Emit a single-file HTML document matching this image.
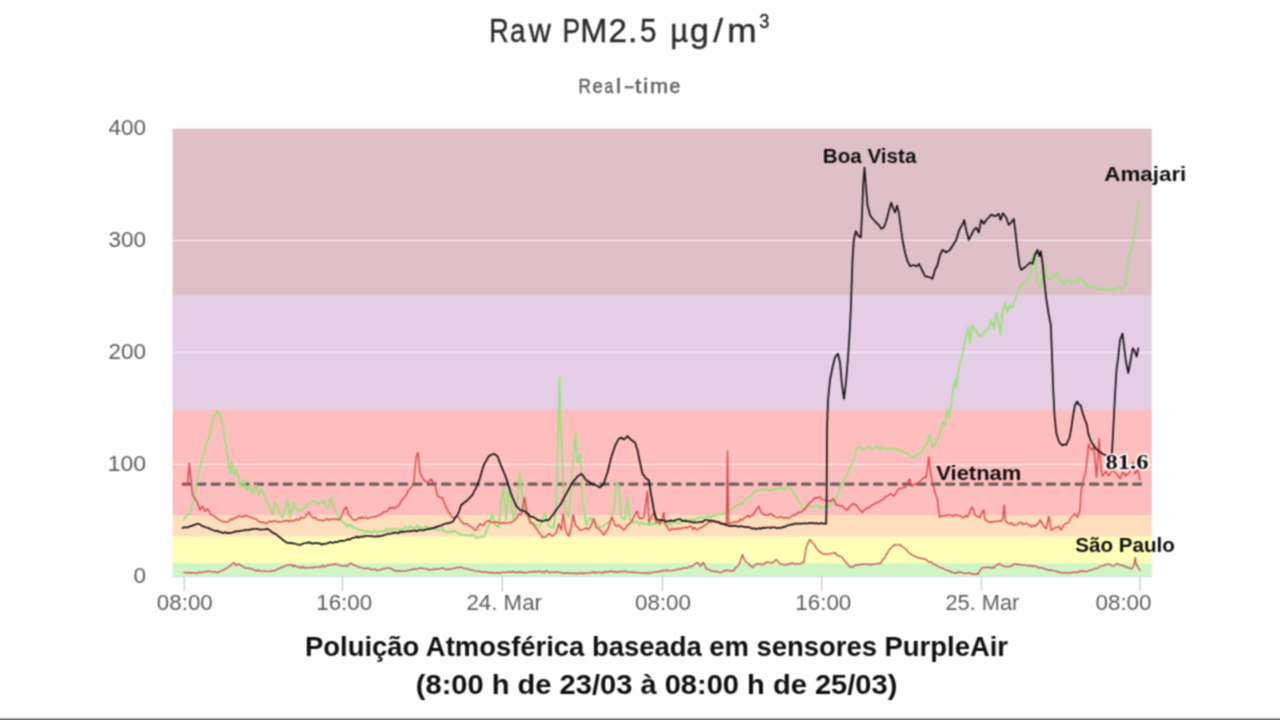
<!DOCTYPE html>
<html lang="pt-BR">
<head>
<meta charset="utf-8">
<title>Raw PM2.5 µg/m³ — Real-time</title>
<style>
html,body{margin:0;padding:0;background:#fff;}
body{width:1280px;height:720px;overflow:hidden;font-family:"Liberation Sans","DejaVu Sans",sans-serif;}
svg{display:block;}
</style>
</head>
<body>
<svg width="1280" height="720" viewBox="0 0 1280 720">
<defs><filter id="soft" x="0" y="0" width="1280" height="720" filterUnits="userSpaceOnUse" color-interpolation-filters="sRGB"><feConvolveMatrix order="3" kernelMatrix="1 2 1 2 4 2 1 2 1" divisor="16" edgeMode="duplicate" preserveAlpha="true"/></filter></defs>
<g filter="url(#soft)">
<rect width="1280" height="720" fill="#fff"/>
<rect x="172.6" y="128" width="979.1" height="167.4" fill="#7e0023" fill-opacity="0.25"/>
<rect x="172.6" y="295.4" width="979.1" height="114.0" fill="#78087d" fill-opacity="0.2"/>
<rect x="172.6" y="409.4" width="979.1" height="105.8" fill="#ff0000" fill-opacity="0.255"/>
<rect x="172.6" y="515.2" width="979.1" height="21.2" fill="#ff7e00" fill-opacity="0.26"/>
<rect x="172.6" y="536.4" width="979.1" height="26.8" fill="#ffff00" fill-opacity="0.28"/>
<rect x="172.6" y="563.2" width="979.1" height="13.3" fill="#68e143" fill-opacity="0.3"/>
<line x1="172.6" x2="1151.7" y1="128.5" y2="128.5" stroke="#fff" stroke-opacity="0.7" stroke-width="1"/>
<line x1="172.6" x2="1151.7" y1="240.5" y2="240.5" stroke="#fff" stroke-opacity="0.7" stroke-width="1"/>
<line x1="172.6" x2="1151.7" y1="352.5" y2="352.5" stroke="#fff" stroke-opacity="0.7" stroke-width="1"/>
<line x1="172.6" x2="1151.7" y1="464.5" y2="464.5" stroke="#fff" stroke-opacity="0.7" stroke-width="1"/>
<line x1="172.6" x2="1151.7" y1="576.7" y2="576.7" stroke="#cdd3dc" stroke-width="1"/>
<line x1="184.3" x2="184.3" y1="576" y2="591" stroke="#c9cacf" stroke-width="1.3"/>
<line x1="342.5" x2="342.5" y1="576" y2="591" stroke="#c9cacf" stroke-width="1.3"/>
<line x1="502.4" x2="502.4" y1="576" y2="591" stroke="#c9cacf" stroke-width="1.3"/>
<line x1="662.5" x2="662.5" y1="576" y2="591" stroke="#c9cacf" stroke-width="1.3"/>
<line x1="821.6" x2="821.6" y1="576" y2="591" stroke="#c9cacf" stroke-width="1.3"/>
<line x1="981.4" x2="981.4" y1="576" y2="591" stroke="#c9cacf" stroke-width="1.3"/>
<line x1="1140.1" x2="1140.1" y1="576" y2="591" stroke="#c9cacf" stroke-width="1.3"/>
<g font-family="'Liberation Sans', 'DejaVu Sans', sans-serif" font-size="21.5" fill="#5e5e5e">
<text x="146" y="135.4" text-anchor="end" textLength="37.5" lengthAdjust="spacingAndGlyphs">400</text>
<text x="146" y="247.4" text-anchor="end" textLength="37.5" lengthAdjust="spacingAndGlyphs">300</text>
<text x="146" y="359.4" text-anchor="end" textLength="37.5" lengthAdjust="spacingAndGlyphs">200</text>
<text x="146" y="471.4" text-anchor="end" textLength="38.3" lengthAdjust="spacingAndGlyphs">100</text>
<text x="146" y="583.4" text-anchor="end" textLength="12.5" lengthAdjust="spacingAndGlyphs">0</text>
<text x="184.8" y="610" text-anchor="middle" textLength="56" lengthAdjust="spacingAndGlyphs">08:00</text>
<text x="344.2" y="610" text-anchor="middle" textLength="56" lengthAdjust="spacingAndGlyphs">16:00</text>
<text x="504.2" y="610" text-anchor="middle" textLength="75.5" lengthAdjust="spacingAndGlyphs">24. Mar</text>
<text x="663.0" y="610" text-anchor="middle" textLength="56" lengthAdjust="spacingAndGlyphs">08:00</text>
<text x="823.3" y="610" text-anchor="middle" textLength="56" lengthAdjust="spacingAndGlyphs">16:00</text>
<text x="982.4" y="610" text-anchor="middle" textLength="74" lengthAdjust="spacingAndGlyphs">25. Mar</text>
<text x="1123.5" y="610" text-anchor="middle" textLength="56" lengthAdjust="spacingAndGlyphs">08:00</text>
</g>
<line x1="182" x2="1142" y1="484.1" y2="484.1" stroke="#4e4a4c" stroke-opacity="0.82" stroke-width="3.1" stroke-dasharray="9.9 4.5"/>
<path d="M183.8 572.5 L185.4 572.6 L187.0 573.2 L188.6 572.3 L190.2 573.2 L191.8 572.7 L193.4 572.8 L195.0 573.0 L196.6 573.6 L198.1 572.6 L199.7 572.3 L201.2 572.5 L202.8 572.4 L204.4 571.7 L205.9 571.7 L207.5 571.2 L209.2 571.1 L210.8 571.7 L212.5 571.9 L214.2 571.8 L215.8 572.0 L217.5 573.0 L219.1 571.5 L220.6 571.4 L222.2 570.7 L223.8 570.0 L225.3 568.9 L226.9 568.2 L228.4 566.6 L230.0 566.2 L231.9 564.3 L233.8 562.5 L236.2 565.5 L238.8 563.8 L240.3 564.9 L241.9 566.2 L243.4 566.6 L245.0 568.0 L246.7 568.2 L248.3 567.9 L250.0 569.0 L251.7 568.7 L253.3 569.4 L255.0 570.5 L256.7 571.1 L258.3 569.8 L260.0 571.2 L261.7 571.1 L263.3 571.0 L265.0 571.2 L266.7 571.4 L268.3 571.3 L270.0 571.5 L271.7 570.8 L273.3 570.6 L275.0 570.8 L276.5 569.7 L278.0 568.8 L279.5 568.5 L281.0 567.4 L282.5 567.0 L284.0 567.1 L285.5 565.4 L287.0 565.3 L288.5 565.0 L290.0 565.0 L291.5 564.5 L293.0 566.7 L294.5 565.1 L296.0 566.5 L297.5 567.0 L299.2 566.9 L300.8 568.1 L302.5 566.6 L304.2 568.1 L305.8 567.5 L307.5 568.0 L309.2 567.8 L310.8 567.4 L312.5 567.8 L314.2 566.8 L315.8 567.1 L317.5 567.0 L319.2 566.9 L320.8 567.3 L322.5 565.2 L324.2 566.7 L325.8 566.2 L327.5 565.5 L329.0 564.9 L330.5 564.9 L332.0 564.2 L333.5 564.8 L335.0 563.8 L336.5 564.3 L338.0 564.7 L339.5 565.1 L341.0 565.7 L342.5 566.2 L344.2 565.9 L345.8 565.3 L347.5 566.3 L349.2 564.2 L350.8 563.2 L352.5 564.5 L354.0 565.0 L355.5 565.6 L357.0 566.5 L358.5 566.8 L360.0 567.5 L361.7 567.6 L363.3 568.1 L365.0 568.6 L366.7 568.1 L368.3 568.4 L370.0 568.8 L371.7 569.8 L373.3 569.4 L375.0 568.9 L376.7 570.6 L378.3 570.1 L380.0 570.0 L381.5 569.3 L383.0 568.7 L384.5 568.9 L386.0 568.0 L387.5 568.0 L389.2 568.1 L390.8 568.5 L392.5 569.4 L394.2 570.7 L395.8 570.5 L397.5 571.2 L399.2 570.5 L400.8 571.3 L402.5 570.9 L404.2 571.1 L405.8 571.2 L407.5 570.5 L409.1 570.1 L410.6 569.8 L412.2 569.5 L413.8 568.7 L415.3 569.2 L416.9 569.2 L418.4 568.4 L420.0 568.0 L421.7 568.2 L423.3 568.5 L425.0 568.6 L426.7 569.0 L428.3 569.5 L430.0 570.0 L431.7 569.4 L433.3 569.4 L435.0 568.7 L436.7 569.3 L438.3 569.0 L440.0 568.8 L441.7 568.4 L443.3 568.0 L445.0 569.1 L446.7 569.7 L448.3 569.0 L450.0 569.5 L451.7 568.9 L453.3 568.4 L455.0 568.5 L456.7 567.4 L458.3 567.9 L460.0 567.0 L461.7 567.4 L463.3 568.4 L465.0 568.5 L466.7 568.9 L468.3 568.8 L470.0 570.0 L471.7 569.9 L473.3 570.4 L475.0 571.0 L476.7 571.1 L478.3 570.9 L480.0 571.5 L481.5 571.8 L483.0 572.2 L484.5 571.9 L486.0 571.9 L487.5 572.1 L489.0 572.8 L490.5 572.8 L492.0 572.3 L493.5 573.0 L495.0 573.0 L496.5 572.7 L498.0 572.5 L499.5 573.3 L501.0 573.0 L502.5 572.2 L504.0 572.4 L505.5 572.5 L507.0 571.9 L508.5 572.0 L510.0 572.0 L511.5 572.4 L513.0 571.3 L514.5 572.3 L516.0 572.5 L517.5 572.5 L519.0 571.7 L520.5 572.5 L522.0 572.0 L523.5 572.7 L525.0 572.5 L526.5 572.6 L528.0 572.3 L529.5 571.8 L531.0 571.7 L532.5 572.3 L534.0 571.3 L535.5 571.8 L537.0 571.7 L538.5 571.2 L540.0 571.2 L541.5 572.5 L543.0 571.5 L544.5 572.6 L546.0 570.8 L547.5 570.9 L549.0 572.4 L550.5 572.4 L552.0 572.1 L553.5 572.4 L555.0 572.5 L556.5 571.7 L558.0 572.4 L559.5 572.3 L561.0 572.7 L562.5 573.3 L564.0 573.0 L565.5 573.2 L567.0 572.8 L568.5 573.0 L570.0 573.2 L571.5 573.3 L573.0 573.1 L574.5 573.7 L576.0 572.8 L577.5 574.0 L579.0 572.7 L580.5 573.6 L582.0 572.7 L583.5 573.8 L585.0 573.0 L586.5 573.0 L588.0 573.1 L589.5 573.2 L591.0 572.5 L592.5 572.3 L594.0 571.8 L595.5 573.2 L597.0 572.3 L598.5 572.3 L600.0 572.5 L601.5 572.4 L603.0 573.2 L604.5 571.4 L606.0 572.2 L607.5 571.8 L609.0 572.1 L610.5 571.0 L612.0 571.5 L613.5 572.0 L615.0 571.5 L616.5 572.3 L618.0 572.3 L619.5 571.3 L621.0 571.7 L622.5 571.7 L624.0 571.2 L625.5 571.2 L627.0 572.2 L628.5 572.1 L630.0 572.0 L631.5 572.0 L633.0 572.7 L634.5 571.8 L636.0 572.6 L637.5 572.5 L639.0 572.6 L640.5 572.9 L642.0 572.9 L643.5 573.0 L645.0 573.0 L646.7 573.0 L648.3 573.5 L650.0 572.4 L651.7 572.8 L653.3 572.4 L655.0 572.0 L656.7 571.6 L658.3 571.9 L660.0 570.9 L661.7 571.5 L663.3 570.4 L665.0 570.5 L666.7 570.2 L668.3 570.5 L670.0 570.6 L671.7 570.6 L673.3 570.5 L675.0 570.0 L676.7 569.6 L678.3 568.9 L680.0 569.2 L681.7 568.8 L683.3 567.9 L685.0 568.0 L686.5 568.1 L688.0 567.4 L689.5 566.5 L691.0 566.8 L692.5 566.2 L694.2 564.4 L695.8 563.4 L697.5 562.5 L699.0 564.6 L700.5 566.2 L703.2 562.5 L704.8 564.9 L706.2 568.8 L707.8 569.4 L709.4 569.4 L710.9 571.0 L712.5 571.2 L714.0 571.2 L715.5 571.8 L717.0 571.3 L718.5 572.1 L720.0 572.5 L721.5 572.4 L723.0 571.7 L724.5 570.2 L726.0 570.9 L727.5 570.0 L729.2 570.8 L730.8 570.7 L732.5 571.2 L734.1 570.3 L735.6 567.6 L737.2 566.5 L738.8 565.0 L740.6 560.3 L742.5 554.5 L744.5 560.0 L746.6 562.5 L748.8 563.8 L750.6 566.2 L752.5 567.5 L754.2 565.8 L755.8 564.2 L757.5 563.8 L759.2 564.3 L760.8 563.9 L762.5 565.0 L764.2 563.9 L765.8 562.4 L767.5 562.0 L769.2 562.6 L770.8 562.7 L772.5 562.5 L774.4 561.3 L776.2 559.5 L778.1 561.6 L780.0 563.8 L781.7 564.2 L783.3 564.4 L785.0 565.0 L786.5 564.8 L788.0 564.3 L789.5 564.0 L791.0 563.2 L792.5 563.0 L794.2 564.1 L795.8 563.6 L797.5 563.8 L799.1 564.1 L800.6 563.7 L802.2 562.4 L803.8 562.5 L806.2 547.5 L808.1 542.7 L810.0 539.5 L811.9 542.2 L813.8 543.8 L815.6 546.7 L817.5 550.0 L819.2 551.3 L820.8 552.4 L822.5 553.8 L824.2 554.1 L825.8 553.7 L827.5 554.5 L829.1 554.1 L830.6 553.5 L832.2 553.4 L833.8 553.0 L835.3 552.8 L836.9 555.0 L838.4 555.6 L840.0 556.2 L841.7 557.1 L843.3 559.3 L845.0 561.2 L846.7 563.2 L848.3 565.4 L850.0 567.0 L851.5 566.6 L853.0 566.8 L854.5 565.8 L856.0 564.9 L857.5 565.0 L859.0 564.4 L860.5 564.8 L862.0 564.0 L863.5 564.4 L865.0 563.8 L866.5 564.4 L868.0 564.3 L869.5 564.7 L871.0 564.3 L872.5 564.5 L874.0 564.3 L875.5 563.9 L877.0 563.8 L878.5 563.2 L880.0 563.8 L881.7 561.4 L883.3 559.1 L885.0 557.5 L886.7 553.9 L888.3 551.7 L890.0 548.8 L891.7 547.5 L893.3 545.8 L895.0 544.5 L896.7 545.1 L898.3 544.9 L900.0 544.5 L901.7 546.4 L903.3 547.1 L905.0 548.8 L906.7 549.7 L908.3 552.3 L910.0 553.8 L911.7 554.7 L913.3 555.7 L915.0 556.2 L916.5 556.9 L918.0 557.8 L919.5 557.6 L921.0 558.6 L922.5 558.8 L924.0 559.0 L925.5 559.0 L927.0 560.5 L928.5 562.0 L930.0 562.0 L931.5 562.1 L933.0 564.2 L934.5 564.2 L936.0 565.2 L937.5 566.2 L939.0 566.9 L940.5 567.6 L942.0 567.8 L943.5 568.9 L945.0 569.5 L946.5 570.2 L948.0 570.9 L949.5 570.7 L951.0 572.2 L952.5 572.0 L954.2 573.0 L955.8 573.4 L957.5 571.9 L959.2 572.7 L960.8 572.0 L962.5 573.0 L964.2 573.3 L965.8 573.5 L967.5 572.9 L969.2 572.8 L970.8 573.7 L972.5 573.8 L974.2 574.3 L975.8 573.9 L977.5 574.5 L979.4 571.5 L981.2 568.8 L982.8 567.2 L984.4 567.6 L985.9 567.5 L987.5 567.0 L989.1 567.3 L990.6 568.2 L992.2 567.2 L993.8 568.0 L995.4 565.6 L997.1 565.4 L998.8 563.8 L1000.4 564.3 L1002.1 565.5 L1003.8 566.2 L1005.3 566.6 L1006.9 566.5 L1008.4 566.9 L1010.0 566.2 L1011.6 566.2 L1013.1 564.3 L1014.7 564.3 L1016.2 563.8 L1017.8 565.0 L1019.4 564.2 L1020.9 565.1 L1022.5 565.0 L1024.0 565.1 L1025.5 565.0 L1027.0 566.0 L1028.5 565.9 L1030.0 565.5 L1031.5 565.7 L1033.0 566.5 L1034.5 565.8 L1036.0 566.4 L1037.5 567.0 L1039.0 567.8 L1040.5 567.7 L1042.0 567.6 L1043.5 568.6 L1045.0 568.8 L1046.5 569.2 L1048.0 570.0 L1049.5 570.2 L1051.0 570.0 L1052.5 570.5 L1054.0 570.6 L1055.5 571.0 L1057.0 571.3 L1058.5 572.4 L1060.0 572.0 L1061.5 572.9 L1063.0 573.0 L1064.5 572.8 L1066.0 572.7 L1067.5 573.0 L1069.0 573.3 L1070.5 572.6 L1072.0 572.8 L1073.5 571.9 L1075.0 572.5 L1076.5 572.1 L1078.0 572.6 L1079.5 571.3 L1081.0 570.8 L1082.5 571.2 L1084.0 571.0 L1085.5 571.7 L1087.0 571.5 L1088.5 570.5 L1090.0 570.5 L1091.5 569.8 L1093.0 569.5 L1094.5 568.6 L1096.0 568.5 L1097.5 568.0 L1099.0 567.3 L1100.5 566.1 L1102.0 565.9 L1103.5 565.5 L1105.0 565.0 L1106.7 564.4 L1108.3 564.2 L1110.0 564.5 L1111.5 565.7 L1113.0 566.0 L1115.0 565.6 L1117.0 563.5 L1118.5 564.1 L1120.0 565.0 L1122.0 565.3 L1124.0 566.0 L1126.0 567.0 L1128.0 567.5 L1130.0 568.1 L1132.0 569.0 L1134.0 565.0 L1135.2 557.5 L1136.5 565.0 L1138.0 567.0 L1140.0 570.5" fill="none" stroke="#c9595e" stroke-width="1.45" stroke-linejoin="round" stroke-linecap="round"/>
<path d="M183.8 520.0 L186.2 516.2 L188.1 513.9 L190.0 513.8 L191.9 505.8 L193.8 500.0 L196.2 485.0 L198.1 476.9 L200.0 467.5 L201.7 459.6 L203.3 455.7 L205.0 450.0 L206.7 442.1 L208.3 439.3 L210.0 432.5 L211.9 424.6 L213.8 416.2 L215.6 415.0 L217.5 411.2 L220.0 415.0 L221.9 423.3 L223.8 432.5 L226.2 447.5 L228.8 465.0 L230.0 472.5 L232.0 462.5 L233.8 475.0 L236.2 470.0 L238.8 477.5 L241.2 487.5 L243.8 480.0 L246.2 490.0 L248.1 487.9 L250.0 485.0 L252.5 493.8 L254.4 489.1 L256.2 485.0 L258.8 495.0 L261.2 488.8 L263.1 492.5 L265.0 497.5 L266.9 501.4 L268.8 505.0 L270.6 508.9 L272.5 515.0 L275.0 502.5 L276.9 505.9 L278.8 510.0 L280.6 514.4 L282.5 517.5 L284.0 512.6 L285.5 507.5 L287.5 500.0 L290.0 517.5 L291.9 509.6 L293.8 502.5 L295.6 508.2 L297.5 510.0 L299.4 510.7 L301.2 511.2 L303.1 508.8 L305.0 507.5 L306.7 506.0 L308.3 503.7 L310.0 502.5 L311.7 501.7 L313.3 501.4 L315.0 501.2 L316.7 503.9 L318.3 502.9 L320.0 503.8 L321.9 502.0 L323.8 500.0 L325.6 505.0 L327.5 508.8 L329.1 504.9 L330.8 497.5 L332.2 502.3 L333.8 507.5 L335.6 510.7 L337.5 515.0 L339.2 519.7 L340.8 518.7 L342.5 522.5 L344.0 522.9 L345.5 524.6 L347.0 526.8 L348.5 524.6 L350.0 526.2 L351.4 524.6 L352.9 527.9 L354.3 527.4 L355.7 528.0 L357.1 529.3 L358.6 529.7 L360.0 530.0 L361.4 530.5 L362.9 530.1 L364.3 531.9 L365.7 532.4 L367.1 531.3 L368.6 531.1 L370.0 531.8 L371.4 532.4 L372.8 532.1 L374.2 530.6 L375.6 531.1 L376.9 532.4 L378.3 531.3 L379.7 531.1 L381.1 531.5 L382.5 531.2 L383.9 530.9 L385.3 530.7 L386.7 528.7 L388.1 531.7 L389.4 530.0 L390.8 528.8 L392.2 530.2 L393.6 529.3 L395.0 528.8 L396.4 528.6 L397.8 529.4 L399.2 530.4 L400.6 528.7 L401.9 529.5 L403.3 529.9 L404.7 526.9 L406.1 527.2 L407.5 527.5 L408.9 528.1 L410.3 525.8 L411.7 527.0 L413.1 528.3 L414.4 528.0 L415.8 527.5 L417.2 525.2 L418.6 528.9 L420.0 526.8 L421.4 527.5 L422.8 527.9 L424.2 527.9 L425.6 526.1 L426.9 526.6 L428.3 527.0 L429.7 530.0 L431.1 527.8 L432.5 528.8 L433.9 528.8 L435.3 529.1 L436.7 530.1 L438.1 530.3 L439.4 530.4 L440.8 529.3 L442.2 527.9 L443.6 531.1 L445.0 531.2 L446.4 531.6 L447.8 532.6 L449.2 531.6 L450.6 531.3 L451.9 532.3 L453.3 530.7 L454.7 531.3 L456.1 531.5 L457.5 532.5 L458.9 533.2 L460.3 535.2 L461.7 534.4 L463.1 535.2 L464.4 534.8 L465.8 535.3 L467.2 535.0 L468.6 535.6 L470.0 536.2 L471.5 534.3 L473.0 535.7 L474.5 535.8 L476.0 538.0 L477.5 537.5 L479.2 537.6 L481.0 536.5 L482.3 537.0 L483.7 536.9 L485.0 535.0 L486.9 529.7 L488.8 525.0 L490.4 520.3 L492.0 513.8 L494.5 522.5 L495.9 525.9 L497.3 525.8 L498.8 527.5 L501.2 500.0 L503.8 487.5 L506.2 520.0 L508.8 486.2 L511.2 505.0 L513.8 520.0 L515.6 511.0 L517.5 500.0 L520.0 472.5 L522.5 497.5 L525.0 515.0 L526.7 516.5 L528.3 516.9 L530.0 520.0 L531.7 521.8 L533.3 522.6 L535.0 525.0 L536.7 525.5 L538.3 525.4 L540.0 526.2 L541.7 522.4 L543.3 516.0 L545.0 513.8 L546.9 521.3 L548.8 525.0 L550.4 527.1 L552.1 526.4 L553.8 527.5 L556.2 505.0 L558.2 425.0 L559.4 377.5 L560.6 425.0 L562.5 462.5 L565.0 510.0 L566.9 512.9 L568.8 517.5 L570.4 496.3 L572.0 475.0 L573.7 454.4 L575.4 432.5 L577.5 462.5 L580.0 455.0 L582.5 500.0 L584.4 512.9 L586.2 525.0 L588.1 521.6 L590.0 517.5 L592.5 520.0 L594.4 520.7 L596.2 525.0 L597.8 524.6 L599.4 527.5 L600.9 527.1 L602.5 527.5 L604.0 525.1 L605.5 524.7 L607.0 523.2 L608.5 522.6 L610.0 522.5 L611.9 517.3 L613.8 510.0 L616.2 482.5 L618.8 485.0 L621.2 517.5 L623.1 518.6 L625.0 520.0 L627.5 497.5 L630.0 520.0 L631.7 521.9 L633.3 521.8 L635.0 522.5 L636.4 521.3 L637.9 522.3 L639.3 525.1 L640.7 522.5 L642.1 522.4 L643.6 524.7 L645.0 523.8 L646.4 523.9 L647.9 524.0 L649.3 525.4 L650.7 522.6 L652.1 524.7 L653.6 523.4 L655.0 524.5 L656.4 523.1 L657.9 523.5 L659.3 525.2 L660.7 523.9 L662.1 522.3 L663.6 522.8 L665.0 523.8 L666.4 525.0 L667.9 524.3 L669.3 522.2 L670.7 525.3 L672.1 522.5 L673.6 521.6 L675.0 522.5 L676.4 522.2 L677.9 523.0 L679.3 523.4 L680.7 522.7 L682.1 521.2 L683.6 520.9 L685.0 521.2 L686.4 519.7 L687.9 520.8 L689.3 520.2 L690.7 520.8 L692.1 519.2 L693.6 519.7 L695.0 520.0 L696.4 518.8 L697.9 518.2 L699.3 517.8 L700.7 517.6 L702.1 517.1 L703.6 518.4 L705.0 517.5 L706.4 517.3 L707.9 515.7 L709.3 517.1 L710.7 516.6 L712.1 517.4 L713.6 515.6 L715.0 515.5 L716.4 514.9 L717.9 514.0 L719.3 514.3 L720.7 514.2 L722.1 513.5 L723.6 512.7 L725.0 512.5 L726.5 512.3 L728.0 511.1 L729.5 510.5 L731.0 508.6 L732.5 508.8 L734.0 507.9 L735.5 505.8 L737.0 505.0 L738.5 504.9 L740.0 503.8 L741.5 504.4 L743.0 502.2 L744.5 500.0 L746.0 498.6 L747.5 497.5 L749.0 497.2 L750.5 496.3 L752.0 494.9 L753.5 492.3 L755.0 491.2 L756.5 491.2 L758.0 490.4 L759.5 490.2 L761.0 489.5 L762.5 490.0 L764.0 489.9 L765.5 488.2 L767.0 489.2 L768.5 490.8 L770.0 490.5 L771.5 489.3 L773.0 490.3 L774.5 488.3 L776.0 488.8 L777.5 488.8 L779.0 489.0 L780.5 487.5 L782.0 487.6 L783.5 490.4 L785.0 488.0 L786.7 487.5 L788.3 487.7 L790.0 488.5 L791.7 490.1 L793.3 492.9 L795.0 495.0 L796.7 497.5 L798.3 500.9 L800.0 502.5 L801.9 507.0 L803.8 510.0 L805.2 509.0 L806.6 508.4 L808.0 506.8 L809.4 506.1 L810.8 506.2 L812.2 506.9 L813.6 505.7 L815.0 505.0 L816.5 506.2 L818.0 506.9 L819.5 506.3 L821.0 508.9 L822.5 507.5 L824.0 506.5 L825.5 505.9 L827.0 505.6 L828.5 506.5 L830.0 505.0 L831.7 503.2 L833.3 501.0 L835.0 500.0 L836.7 496.2 L838.3 492.7 L840.0 487.5 L841.7 484.1 L843.3 480.6 L845.0 477.5 L846.7 475.2 L848.3 471.7 L850.0 467.5 L851.9 464.6 L853.8 460.0 L856.2 450.0 L858.8 446.2 L860.6 447.4 L862.5 450.0 L864.2 449.4 L865.8 448.7 L867.5 447.5 L869.2 446.3 L870.8 449.4 L872.5 448.8 L874.2 448.0 L875.8 446.8 L877.5 446.2 L879.2 448.9 L880.8 447.6 L882.5 448.0 L884.0 447.5 L885.5 448.2 L887.0 449.0 L888.5 449.3 L890.0 448.8 L891.5 448.9 L893.0 448.5 L894.5 448.9 L896.0 449.0 L897.5 450.0 L899.0 449.5 L900.5 451.0 L902.0 451.0 L903.5 452.0 L905.0 452.5 L906.5 452.7 L908.0 453.7 L909.5 455.3 L911.0 456.2 L912.5 457.5 L914.2 457.7 L915.8 455.0 L917.5 455.0 L919.2 453.9 L920.8 452.5 L922.5 451.2 L924.4 446.9 L926.2 445.0 L927.9 440.7 L929.5 435.0 L931.0 441.4 L932.5 447.5 L935.0 445.0 L937.5 440.0 L940.0 432.5 L942.5 422.5 L945.0 425.0 L947.0 410.0 L948.8 417.5 L951.2 405.0 L953.0 390.0 L955.0 380.0 L956.2 387.5 L958.0 372.5 L960.0 362.5 L962.5 355.0 L964.5 342.5 L966.2 335.0 L968.0 327.5 L970.0 342.5 L972.0 325.0 L974.5 330.0 L976.0 329.9 L977.5 333.8 L979.4 335.6 L981.2 336.2 L983.1 334.6 L985.0 331.2 L986.9 329.3 L988.8 328.8 L991.2 320.0 L993.8 328.8 L996.2 312.5 L998.8 322.5 L1000.5 335.0 L1002.5 312.5 L1005.0 302.5 L1007.5 312.5 L1010.0 305.0 L1012.5 307.5 L1015.0 300.0 L1017.5 292.5 L1020.0 286.2 L1022.5 283.8 L1024.4 283.4 L1026.2 280.0 L1028.1 277.6 L1030.0 275.0 L1032.0 257.5 L1033.8 252.5 L1035.8 270.0 L1037.5 282.5 L1040.0 287.5 L1042.5 275.0 L1044.5 265.0 L1046.2 275.0 L1048.8 280.0 L1050.6 277.7 L1052.5 277.5 L1054.4 275.5 L1056.2 272.5 L1058.1 275.9 L1060.0 280.0 L1061.9 281.3 L1063.8 285.0 L1065.6 280.5 L1067.5 280.0 L1069.4 281.5 L1071.2 282.5 L1072.9 281.4 L1074.6 282.3 L1076.2 281.2 L1077.9 280.8 L1079.6 279.1 L1081.2 278.8 L1083.1 280.8 L1085.0 283.8 L1086.7 286.2 L1088.3 287.0 L1090.0 286.2 L1091.5 287.4 L1093.0 286.9 L1094.5 286.8 L1096.0 287.9 L1097.5 288.8 L1099.0 290.4 L1100.5 289.5 L1102.0 288.9 L1103.5 288.2 L1105.0 289.5 L1106.5 289.7 L1108.0 288.7 L1109.5 289.5 L1111.0 290.2 L1112.5 289.5 L1114.0 290.1 L1115.5 288.8 L1117.0 288.0 L1118.5 288.1 L1120.0 287.5 L1121.7 288.5 L1123.3 286.5 L1125.0 285.5 L1127.2 270.0 L1129.3 255.0 L1131.7 250.0 L1134.0 236.7 L1135.3 225.4 L1136.7 216.7 L1139.3 201.7" fill="none" stroke="#9de07f" stroke-width="1.9" stroke-linejoin="round" stroke-linecap="round"/>
<path d="M182.8 484.5 L184.2 484.8 L185.5 485.5 L187.8 482.5 L189.3 463.3 L190.4 474.0 L191.4 484.0 L192.6 495.0 L194.4 497.9 L196.2 500.0 L198.1 504.8 L200.0 510.0 L202.5 506.2 L205.0 511.2 L207.5 508.8 L209.4 511.7 L211.2 515.0 L212.9 515.2 L214.6 516.5 L216.2 517.5 L217.8 519.2 L219.4 519.7 L220.9 521.0 L222.5 521.2 L224.2 521.7 L225.8 522.0 L227.5 522.0 L229.0 521.2 L230.5 519.0 L232.0 519.9 L233.5 518.8 L235.0 517.5 L236.5 517.7 L238.0 516.1 L239.5 516.0 L241.0 516.5 L242.5 517.0 L245.0 515.5 L246.7 515.7 L248.3 516.7 L250.0 517.0 L251.7 517.6 L253.3 518.5 L255.0 518.8 L256.6 519.2 L258.1 520.8 L259.7 521.8 L261.2 522.5 L263.1 522.3 L265.0 523.0 L266.7 523.6 L268.3 522.2 L270.0 521.2 L271.5 522.2 L273.0 521.0 L274.5 521.0 L276.0 521.4 L277.5 521.8 L279.0 521.6 L280.5 522.0 L282.0 521.6 L283.5 521.0 L285.0 521.2 L286.4 520.5 L287.9 520.7 L289.3 521.8 L290.7 520.3 L292.1 520.9 L293.6 520.9 L295.0 520.5 L296.4 519.0 L297.9 519.7 L299.3 520.1 L300.7 517.4 L302.1 518.1 L303.6 517.9 L305.0 517.5 L306.9 514.2 L308.8 512.0 L310.6 515.1 L312.5 517.5 L314.0 518.0 L315.5 517.5 L317.0 519.6 L318.5 520.0 L320.0 520.0 L321.4 520.6 L322.9 520.9 L324.3 520.0 L325.7 519.8 L327.1 518.7 L328.6 520.0 L330.0 519.5 L331.5 519.2 L332.9 519.3 L334.4 518.9 L335.8 519.2 L337.3 519.5 L338.8 520.0 L340.6 517.8 L342.5 513.8 L344.4 509.0 L346.2 507.0 L348.8 515.0 L350.6 516.2 L352.5 519.5 L354.0 519.5 L355.5 520.2 L357.0 519.5 L358.5 517.6 L360.0 518.8 L361.4 516.8 L362.9 518.6 L364.3 517.7 L365.7 517.3 L367.1 518.5 L368.6 518.4 L370.0 517.5 L371.5 517.2 L373.0 516.9 L374.5 516.6 L376.0 517.0 L377.5 515.5 L379.0 515.2 L380.5 514.5 L382.0 513.8 L383.5 511.6 L385.0 512.0 L386.7 511.4 L388.3 509.7 L390.0 507.5 L391.7 508.3 L393.3 507.0 L395.0 508.8 L396.7 506.6 L398.3 506.0 L400.0 503.8 L401.7 500.0 L403.3 498.6 L405.0 496.2 L406.7 494.5 L408.3 490.3 L410.0 488.8 L411.9 486.8 L413.8 482.5 L416.2 457.5 L418.0 452.5 L420.0 472.5 L421.9 476.6 L423.8 480.0 L425.6 481.1 L427.5 482.5 L429.4 480.9 L431.2 478.8 L433.1 482.3 L435.0 485.0 L437.5 496.2 L439.2 496.8 L440.8 497.9 L442.5 497.5 L445.0 505.0 L446.9 508.3 L448.8 512.5 L450.6 514.7 L452.5 517.5 L454.2 517.8 L455.8 516.7 L457.5 516.2 L459.2 517.7 L460.8 521.1 L462.5 522.5 L464.0 524.3 L465.5 523.7 L467.0 523.8 L468.5 525.4 L470.0 526.2 L471.6 527.1 L473.1 527.9 L474.7 530.0 L476.2 530.0 L478.1 526.2 L480.0 523.8 L481.9 525.3 L483.8 525.0 L485.6 522.2 L487.5 521.2 L489.0 520.8 L490.5 522.0 L492.0 522.5 L493.5 522.5 L495.0 522.0 L496.5 522.4 L498.0 522.5 L499.5 522.7 L501.0 523.2 L502.5 523.0 L504.0 522.8 L505.5 523.0 L507.0 523.1 L508.5 522.6 L510.0 522.5 L511.7 522.2 L513.3 521.2 L515.0 520.0 L516.9 518.3 L518.8 513.8 L521.2 515.0 L522.9 506.5 L524.5 497.5 L527.0 512.5 L528.5 517.2 L530.0 522.5 L531.9 523.5 L533.8 525.0 L535.6 527.5 L537.5 530.0 L539.2 533.1 L540.8 534.8 L542.5 537.5 L544.2 536.9 L545.8 537.1 L547.5 535.0 L549.2 533.6 L550.8 535.0 L552.5 536.2 L554.4 534.5 L556.2 532.5 L558.8 523.8 L561.2 530.0 L563.2 513.8 L565.5 530.0 L567.1 533.4 L568.8 536.2 L571.2 527.5 L573.2 515.0 L575.5 525.0 L577.0 526.8 L578.5 528.0 L580.0 530.0 L581.7 530.0 L583.3 529.4 L585.0 528.8 L586.7 528.0 L588.3 529.6 L590.0 527.5 L591.9 523.4 L593.8 518.8 L596.2 527.5 L598.1 528.4 L600.0 530.0 L601.9 532.4 L603.8 535.0 L605.4 532.3 L607.1 530.0 L608.8 527.5 L610.4 520.6 L612.0 517.5 L613.5 520.9 L615.0 525.0 L616.7 526.1 L618.3 525.0 L620.0 526.2 L621.9 528.1 L623.8 530.0 L625.6 528.2 L627.5 525.0 L629.2 523.9 L630.8 522.7 L632.5 520.0 L634.0 515.9 L635.5 513.9 L637.0 511.2 L639.5 518.8 L640.9 518.1 L642.3 518.4 L643.8 517.5 L645.6 505.1 L647.5 491.2 L649.0 522.5 L651.2 517.5 L653.8 512.5 L656.2 522.5 L658.1 521.2 L660.0 523.8 L661.9 518.9 L663.8 512.5 L665.5 525.0 L667.1 526.5 L668.8 530.0 L670.3 530.2 L671.9 528.3 L673.4 529.2 L675.0 528.8 L676.5 529.4 L678.0 528.3 L679.5 528.4 L681.0 528.7 L682.5 528.0 L684.0 527.7 L685.5 527.2 L687.0 528.0 L688.5 527.3 L690.0 526.2 L691.5 526.7 L693.0 529.5 L694.5 527.4 L696.0 529.5 L697.5 529.5 L699.0 528.4 L700.5 527.8 L702.0 527.3 L703.5 526.1 L705.0 525.0 L706.5 524.7 L708.0 522.4 L709.5 521.7 L711.0 522.4 L712.5 521.2 L714.2 521.0 L715.8 521.4 L717.5 522.5 L719.1 521.8 L720.6 524.0 L722.2 524.0 L723.8 523.8 L725.1 525.4 L726.5 525.0 L727.5 451.2 L728.5 523.8 L729.8 522.8 L731.2 523.3 L732.5 523.0 L734.2 521.6 L735.8 522.4 L737.5 521.2 L739.0 521.6 L740.5 519.1 L742.0 520.1 L743.5 518.9 L745.0 517.5 L746.5 517.0 L748.0 515.3 L749.5 517.3 L751.0 515.8 L752.5 515.5 L754.4 512.3 L756.2 510.0 L758.8 506.2 L761.2 512.5 L763.1 514.0 L765.0 515.0 L766.7 514.9 L768.3 515.2 L770.0 513.8 L771.7 513.9 L773.3 516.2 L775.0 516.2 L776.5 517.5 L778.0 517.8 L779.5 516.9 L781.0 516.7 L782.5 517.5 L784.0 518.2 L785.5 517.6 L787.0 517.6 L788.5 518.5 L790.0 517.5 L791.7 516.6 L793.3 514.6 L795.0 515.5 L796.7 514.2 L798.3 512.2 L800.0 512.5 L801.7 511.8 L803.3 510.2 L805.0 508.8 L806.7 506.2 L808.3 504.6 L810.0 502.5 L811.7 501.4 L813.3 499.2 L815.0 497.5 L816.7 498.3 L818.3 497.1 L820.0 497.0 L821.7 498.7 L823.3 500.0 L825.0 500.0 L826.7 501.5 L828.3 500.4 L830.0 501.2 L831.5 500.6 L833.0 498.8 L834.6 500.6 L836.2 505.0 L838.1 504.9 L840.0 506.2 L841.9 505.5 L843.8 507.5 L845.6 509.5 L847.5 510.0 L849.2 507.1 L850.8 505.8 L852.5 503.8 L854.4 504.2 L856.2 505.0 L858.8 508.8 L860.6 510.6 L862.5 512.5 L864.2 510.4 L865.8 509.3 L867.5 507.5 L869.2 507.9 L870.8 505.9 L872.5 505.0 L874.4 504.1 L876.2 502.5 L878.1 502.6 L880.0 501.2 L881.9 499.9 L883.8 498.8 L885.6 496.6 L887.5 496.2 L889.4 494.6 L891.2 493.8 L893.8 496.2 L895.6 493.9 L897.5 490.0 L899.4 488.2 L901.2 488.8 L903.1 487.7 L905.0 487.5 L906.5 485.3 L908.0 482.2 L909.5 478.8 L912.0 486.2 L913.5 485.0 L915.0 483.8 L916.9 483.7 L918.8 482.5 L920.6 480.7 L922.5 478.8 L924.4 477.3 L926.2 477.5 L928.8 457.0 L930.5 472.5 L932.5 482.5 L935.0 492.5 L937.5 500.0 L939.5 517.5 L941.0 515.8 L942.5 516.2 L944.2 515.4 L945.8 516.1 L947.5 515.0 L949.2 515.0 L950.8 515.2 L952.5 516.2 L954.2 515.5 L955.8 514.7 L957.5 515.5 L959.2 516.1 L960.8 516.0 L962.5 517.5 L964.2 517.6 L965.8 515.5 L967.5 517.0 L969.0 513.9 L970.5 509.9 L972.0 507.0 L973.5 509.6 L975.0 515.0 L976.7 516.3 L978.3 516.5 L980.0 517.5 L981.9 512.2 L983.8 510.0 L985.0 520.0 L986.7 520.2 L988.3 521.9 L990.0 522.5 L991.7 521.8 L993.3 522.2 L995.0 521.2 L996.5 521.5 L998.0 521.2 L999.5 520.7 L1001.0 521.2 L1002.5 520.0 L1004.2 505.0 L1005.5 521.2 L1007.0 522.5 L1008.5 523.2 L1010.0 523.8 L1011.7 522.7 L1013.3 525.2 L1015.0 525.0 L1016.7 525.1 L1018.3 523.1 L1020.0 522.5 L1021.7 522.6 L1023.3 524.7 L1025.0 523.8 L1026.7 522.9 L1028.3 524.9 L1030.0 525.0 L1031.7 527.1 L1033.3 525.2 L1035.0 526.2 L1036.7 524.6 L1038.3 523.4 L1040.0 520.0 L1041.9 523.0 L1043.8 526.2 L1046.2 528.8 L1048.8 516.2 L1051.2 530.0 L1053.1 529.1 L1055.0 527.5 L1056.9 527.5 L1058.8 526.2 L1061.2 530.0 L1063.1 526.2 L1065.0 523.8 L1066.9 523.1 L1068.8 522.5 L1071.2 517.5 L1073.1 515.8 L1075.0 513.8 L1077.5 517.5 L1080.0 510.0 L1081.2 490.0 L1083.8 478.8 L1085.6 472.5 L1087.5 456.2 L1088.5 443.8 L1090.0 447.5 L1092.0 450.0 L1093.8 446.2 L1095.0 460.0 L1096.5 477.5 L1097.5 465.0 L1099.0 438.8 L1100.0 453.8 L1101.2 470.0 L1102.5 476.2 L1104.4 473.8 L1106.2 471.2 L1107.6 474.2 L1109.0 476.0 L1110.5 473.0 L1112.0 470.0 L1113.5 471.1 L1115.0 472.5 L1117.5 475.0 L1120.0 478.8 L1122.5 472.5 L1124.2 473.5 L1126.0 476.0 L1127.3 474.2 L1128.7 473.5 L1130.0 471.2 L1131.5 466.7 L1133.0 462.0 L1135.0 474.0 L1136.5 471.4 L1138.0 470.0 L1140.0 480.0" fill="none" stroke="#da4c4e" stroke-width="1.5" stroke-linejoin="round" stroke-linecap="round"/>
<path d="M182.5 528.0 L184.0 527.3 L185.5 527.4 L187.0 527.4 L188.5 527.1 L190.0 526.2 L191.5 526.2 L193.0 525.3 L194.5 524.9 L196.0 524.2 L197.5 523.8 L199.0 523.9 L200.5 524.9 L202.0 526.0 L203.5 526.4 L205.0 527.0 L206.5 527.5 L208.0 527.8 L209.5 528.8 L211.0 529.2 L212.5 530.0 L214.2 530.5 L215.8 531.2 L217.5 530.7 L219.2 532.0 L220.8 532.0 L222.5 533.0 L224.2 532.6 L225.8 532.4 L227.5 533.1 L229.2 532.9 L230.8 532.8 L232.5 532.5 L234.2 531.9 L235.8 531.3 L237.5 531.4 L239.2 531.2 L240.8 530.8 L242.5 530.5 L244.2 530.4 L245.8 529.8 L247.5 530.3 L249.2 529.6 L250.8 529.7 L252.5 528.8 L254.2 529.0 L255.8 528.9 L257.5 528.8 L259.2 529.5 L260.8 529.7 L262.5 529.5 L264.2 529.3 L265.8 529.1 L267.5 528.8 L269.2 529.9 L270.8 531.1 L272.5 532.5 L274.0 533.4 L275.5 533.8 L277.0 535.1 L278.5 536.5 L280.0 537.5 L281.5 538.6 L283.0 540.1 L284.5 541.0 L286.0 542.0 L287.5 543.0 L289.0 543.2 L290.5 542.5 L292.0 543.5 L293.5 543.3 L295.0 543.8 L296.7 544.3 L298.3 544.5 L300.0 545.0 L301.7 544.2 L303.3 543.5 L305.0 543.0 L306.7 542.9 L308.3 542.4 L310.0 542.6 L311.7 543.6 L313.3 543.4 L315.0 543.2 L316.7 543.2 L318.3 543.3 L320.0 543.4 L321.7 544.7 L323.3 543.8 L325.0 543.8 L326.7 543.5 L328.3 542.9 L330.0 542.0 L331.7 542.6 L333.3 542.8 L335.0 542.0 L336.7 542.1 L338.3 541.6 L340.0 541.0 L341.7 540.6 L343.3 540.8 L345.0 540.5 L346.7 539.9 L348.3 539.1 L350.0 539.6 L351.7 538.2 L353.3 537.8 L355.0 537.5 L356.7 536.5 L358.3 537.7 L360.0 536.8 L361.7 536.6 L363.3 536.6 L365.0 536.2 L366.6 536.0 L368.1 536.0 L369.7 536.3 L371.2 536.0 L372.8 536.4 L374.4 536.7 L375.9 536.5 L377.5 536.2 L379.1 536.4 L380.6 536.0 L382.2 535.9 L383.8 535.1 L385.3 534.8 L386.9 534.0 L388.4 534.0 L390.0 533.8 L391.7 533.2 L393.3 533.1 L395.0 532.5 L396.7 532.7 L398.3 533.2 L400.0 532.0 L401.7 531.6 L403.3 531.9 L405.0 531.8 L406.7 531.2 L408.3 531.3 L410.0 531.2 L411.7 530.9 L413.3 531.0 L415.0 530.4 L416.7 531.3 L418.3 530.5 L420.0 530.0 L421.7 530.2 L423.3 530.3 L425.0 529.9 L426.7 529.1 L428.3 529.1 L430.0 528.8 L431.5 528.4 L433.0 528.1 L434.5 528.0 L436.0 526.7 L437.5 527.0 L439.0 525.8 L440.5 525.6 L442.0 525.2 L443.5 524.2 L445.0 523.8 L446.5 523.3 L448.0 523.4 L449.5 522.9 L451.0 522.3 L452.5 522.0 L454.2 519.5 L455.8 516.8 L457.5 515.0 L459.4 510.2 L461.2 505.0 L462.9 503.8 L464.6 502.2 L466.2 501.2 L467.8 499.8 L469.4 498.0 L470.9 496.4 L472.5 495.0 L474.2 491.1 L475.8 488.6 L477.5 485.0 L480.0 478.0 L481.9 471.2 L483.8 465.0 L485.4 462.2 L487.1 459.2 L488.8 456.2 L490.4 455.2 L492.1 454.5 L493.8 453.8 L495.6 454.9 L497.5 456.2 L499.4 461.1 L501.2 466.2 L503.1 470.7 L505.0 475.0 L506.9 480.4 L508.8 486.2 L510.6 492.1 L512.5 497.5 L514.4 501.9 L516.2 506.2 L518.1 507.7 L520.0 510.0 L521.7 510.5 L523.3 510.7 L525.0 511.2 L526.7 513.1 L528.3 513.7 L530.0 516.2 L531.6 517.0 L533.1 516.7 L534.7 517.9 L536.2 518.8 L537.8 520.5 L539.4 520.2 L540.9 521.0 L542.5 521.2 L544.1 520.7 L545.6 520.2 L547.2 520.2 L548.8 520.0 L550.4 518.0 L552.1 515.8 L553.8 513.8 L555.3 511.3 L556.9 509.0 L558.4 507.0 L560.0 505.0 L561.6 502.7 L563.1 499.3 L564.7 496.4 L566.2 493.8 L567.8 490.8 L569.4 487.8 L570.9 484.8 L572.5 482.5 L574.2 480.4 L575.8 478.8 L577.5 476.2 L579.4 475.2 L581.2 473.8 L583.1 475.7 L585.0 478.8 L586.7 480.5 L588.3 481.3 L590.0 482.5 L591.7 484.0 L593.3 484.1 L595.0 485.0 L596.7 485.3 L598.3 486.7 L600.0 487.5 L601.9 485.6 L603.8 483.8 L605.6 477.7 L607.5 472.5 L609.4 464.7 L611.2 457.5 L613.1 451.7 L615.0 446.2 L616.9 442.2 L618.8 438.8 L621.2 437.5 L623.8 439.5 L625.6 438.1 L627.5 436.2 L629.4 438.2 L631.2 440.0 L633.1 441.1 L635.0 442.5 L637.5 450.0 L640.0 462.5 L642.5 473.8 L644.4 476.1 L646.2 478.8 L648.8 480.0 L651.2 495.0 L653.8 510.0 L656.2 518.8 L658.1 519.7 L660.0 520.0 L661.5 520.4 L663.0 520.1 L664.5 520.8 L666.0 521.6 L667.5 521.2 L669.2 521.1 L670.8 520.4 L672.5 520.9 L674.2 521.0 L675.8 519.8 L677.5 519.5 L679.2 519.0 L680.8 519.6 L682.5 521.0 L684.2 520.6 L685.8 521.2 L687.5 521.2 L689.2 521.7 L690.8 521.7 L692.5 522.5 L694.2 522.2 L695.8 522.5 L697.5 522.5 L699.2 522.2 L700.8 521.8 L702.5 522.1 L704.2 520.5 L705.8 520.0 L707.5 520.0 L709.2 520.7 L710.8 520.3 L712.5 521.1 L714.2 521.0 L715.8 522.0 L717.5 522.0 L719.2 522.6 L720.8 523.4 L722.5 523.5 L724.2 524.3 L725.8 524.1 L727.5 525.5 L729.1 525.9 L730.6 525.8 L732.2 525.8 L733.8 525.9 L735.3 525.9 L736.9 526.1 L738.4 526.8 L740.0 526.2 L741.7 526.3 L743.3 526.5 L745.0 527.1 L746.7 527.2 L748.3 527.1 L750.0 527.5 L751.5 528.3 L753.0 528.6 L754.5 528.2 L756.0 529.2 L757.5 528.8 L759.2 528.1 L760.8 528.9 L762.5 527.6 L764.2 528.1 L765.8 527.7 L767.5 527.5 L769.1 527.5 L770.6 527.9 L772.2 527.4 L773.8 527.5 L775.3 527.4 L776.9 528.4 L778.4 527.7 L780.0 528.0 L781.7 527.6 L783.3 526.9 L785.0 526.9 L786.7 525.7 L788.3 525.2 L790.0 525.0 L791.8 524.4 L793.5 524.3 L795.2 523.6 L797.0 523.5 L798.6 523.6 L800.2 523.6 L801.8 523.7 L803.4 523.5 L805.0 523.2 L806.7 523.8 L808.3 523.2 L810.0 523.2 L811.7 523.2 L813.3 523.2 L815.0 523.5 L816.6 523.1 L818.2 523.7 L819.8 523.7 L821.4 522.9 L823.0 523.7 L824.6 523.5 L826.2 523.8 L826.6 500.0 L827.0 430.0 L828.0 400.0 L830.0 380.0 L832.5 367.5 L835.0 357.5 L836.5 355.3 L838.0 353.8 L840.0 362.5 L842.0 385.0 L844.0 398.8 L846.2 380.0 L848.0 357.5 L849.5 335.0 L850.8 310.0 L851.5 290.0 L852.5 260.0 L853.8 240.0 L855.8 231.2 L857.2 233.7 L858.8 236.2 L860.8 237.5 L862.0 215.0 L863.2 185.0 L864.5 167.5 L865.8 185.0 L867.5 205.0 L870.0 215.0 L871.9 217.9 L873.8 220.0 L875.6 221.9 L877.5 223.8 L879.4 225.6 L881.2 228.8 L883.8 227.5 L886.2 221.2 L888.8 211.2 L891.2 202.5 L893.8 210.0 L895.0 212.5 L897.0 205.5 L898.8 212.5 L900.5 225.0 L902.5 240.0 L905.0 252.5 L907.5 261.2 L910.0 266.2 L911.5 265.8 L913.0 265.0 L914.6 265.3 L916.2 266.2 L917.8 265.6 L919.2 263.8 L922.0 270.0 L923.5 273.0 L925.0 276.2 L926.9 276.6 L928.8 277.0 L930.6 277.8 L932.5 278.8 L935.0 270.0 L937.5 265.0 L940.0 255.0 L942.5 250.0 L944.4 251.0 L946.2 252.5 L948.1 251.1 L950.0 250.0 L951.9 246.8 L953.8 243.8 L956.2 240.0 L958.8 231.2 L961.2 226.2 L962.8 223.9 L964.2 220.0 L966.2 230.0 L968.8 240.0 L971.2 235.0 L973.8 230.0 L976.2 227.5 L978.8 232.5 L981.2 220.0 L983.8 223.8 L986.2 220.0 L988.8 217.5 L991.2 214.5 L993.1 215.4 L995.0 216.2 L996.9 215.2 L998.8 213.8 L1000.5 220.0 L1003.0 213.2 L1004.6 215.4 L1006.2 217.5 L1008.8 225.0 L1011.2 222.5 L1013.8 218.8 L1015.5 232.5 L1017.5 250.0 L1019.5 265.0 L1021.2 270.0 L1022.9 268.8 L1024.5 267.5 L1026.0 266.4 L1027.5 265.0 L1030.0 262.5 L1032.5 263.8 L1035.0 255.0 L1037.5 250.0 L1039.5 256.2 L1040.8 251.2 L1042.5 262.5 L1044.2 280.0 L1046.2 298.0 L1048.8 315.0 L1050.8 325.0 L1052.0 355.0 L1053.0 385.0 L1054.5 415.0 L1056.2 432.5 L1058.8 441.2 L1060.6 443.9 L1062.5 445.5 L1064.4 444.2 L1066.2 445.0 L1067.8 441.3 L1069.4 438.0 L1071.2 428.8 L1073.0 416.2 L1075.0 405.0 L1077.2 401.5 L1079.0 405.0 L1080.6 405.0 L1082.5 412.5 L1085.0 420.0 L1087.0 425.0 L1088.0 432.5 L1090.0 438.8 L1092.0 443.0 L1093.5 445.0 L1095.0 447.5 L1096.9 449.7 L1098.8 451.2 L1100.6 452.2 L1102.5 453.8 L1104.0 454.7 L1105.6 455.0 L1107.3 455.9 L1109.0 456.0 L1110.5 454.3 L1112.0 453.0 L1112.8 437.5 L1113.8 418.8 L1115.0 395.0 L1116.5 370.0 L1118.3 356.7 L1120.0 340.0 L1122.5 333.5 L1124.0 346.0 L1126.0 362.0 L1128.3 373.0 L1130.7 360.0 L1132.7 348.3 L1135.0 351.7 L1136.7 356.7 L1138.3 348.3" fill="none" stroke="#171217" stroke-width="1.7" stroke-linejoin="round" stroke-linecap="round"/>
<g font-family="'Liberation Sans', 'DejaVu Sans', sans-serif" font-weight="bold" font-size="19.4" fill="#111">
<text x="822.8" y="162.5" textLength="93.6" lengthAdjust="spacingAndGlyphs">Boa Vista</text>
<text x="1104.3" y="181" textLength="82" lengthAdjust="spacingAndGlyphs">Amajari</text>
<text x="936.3" y="480" textLength="85" lengthAdjust="spacingAndGlyphs">Vietnam</text>
<text x="1075.3" y="552" textLength="99.5" lengthAdjust="spacingAndGlyphs">São Paulo</text>
</g>
<text x="1105.5" y="469.2" font-family="'Liberation Serif', 'DejaVu Serif', serif" font-weight="bold" font-size="21.5" fill="#111" stroke="#fff" stroke-opacity="0.9" stroke-width="3.4" stroke-linejoin="round" paint-order="stroke" textLength="43" lengthAdjust="spacingAndGlyphs">81.6</text>
<text y="42.1" font-family="'Liberation Sans', 'DejaVu Sans', sans-serif" font-size="33.5" fill="#2c2c2c" stroke="#2c2c2c" stroke-width="0.4"><tspan x="489.3" textLength="19.5" lengthAdjust="spacingAndGlyphs">R</tspan><tspan x="510.1" textLength="15.5" lengthAdjust="spacingAndGlyphs">a</tspan><tspan x="528.7" textLength="22.2" lengthAdjust="spacingAndGlyphs">w</tspan> <tspan x="562.5" textLength="17.6" lengthAdjust="spacingAndGlyphs">P</tspan><tspan x="580.2" textLength="27.1" lengthAdjust="spacingAndGlyphs">M</tspan><tspan x="608.6" textLength="18.4" lengthAdjust="spacingAndGlyphs">2</tspan><tspan x="627.8" textLength="9.8" lengthAdjust="spacingAndGlyphs">.</tspan><tspan x="640.0" textLength="16.5" lengthAdjust="spacingAndGlyphs">5</tspan> <tspan x="670.3" textLength="17.9" lengthAdjust="spacingAndGlyphs">µ</tspan><tspan x="689.8" textLength="19.2" lengthAdjust="spacingAndGlyphs">g</tspan><tspan x="713.2" textLength="9.8" lengthAdjust="spacingAndGlyphs">/</tspan><tspan x="727.2" textLength="29.3" lengthAdjust="spacingAndGlyphs">m</tspan><tspan x="759.3" dy="-13.6" font-size="21" textLength="10.1" lengthAdjust="spacingAndGlyphs">3</tspan></text>
<text y="93.1" font-family="'Liberation Sans', 'DejaVu Sans', sans-serif" font-size="20.8" fill="#606060" stroke="#606060" stroke-width="0.45"><tspan x="578.5" textLength="12.4" lengthAdjust="spacingAndGlyphs">R</tspan><tspan x="592.5" textLength="10.2" lengthAdjust="spacingAndGlyphs">e</tspan><tspan x="604.6" textLength="8.7" lengthAdjust="spacingAndGlyphs">a</tspan><tspan x="616.0" textLength="5.0" lengthAdjust="spacingAndGlyphs">l</tspan><tspan x="623.4" textLength="11.2" lengthAdjust="spacingAndGlyphs">-</tspan><tspan x="635.1" textLength="6.3" lengthAdjust="spacingAndGlyphs">t</tspan><tspan x="643.3" textLength="5.0" lengthAdjust="spacingAndGlyphs">i</tspan><tspan x="649.9" textLength="18.1" lengthAdjust="spacingAndGlyphs">m</tspan><tspan x="669.6" textLength="10.8" lengthAdjust="spacingAndGlyphs">e</tspan></text>
<g font-family="'Liberation Sans', 'DejaVu Sans', sans-serif" font-weight="bold" font-size="28" fill="#111" text-anchor="middle">
<text x="656.5" y="655.6" textLength="703" lengthAdjust="spacingAndGlyphs">Poluição Atmosférica baseada em sensores PurpleAir</text>
<text x="656.6" y="694.4" textLength="481.5" lengthAdjust="spacingAndGlyphs">(8:00 h de 23/03 à 08:00 h de 25/03)</text>
</g>
<rect x="0" y="718" width="1280" height="1" fill="#b8b8b8"/><rect x="0" y="719" width="1280" height="1" fill="#5a5a5a"/>
</g>
</svg>
</body>
</html>
